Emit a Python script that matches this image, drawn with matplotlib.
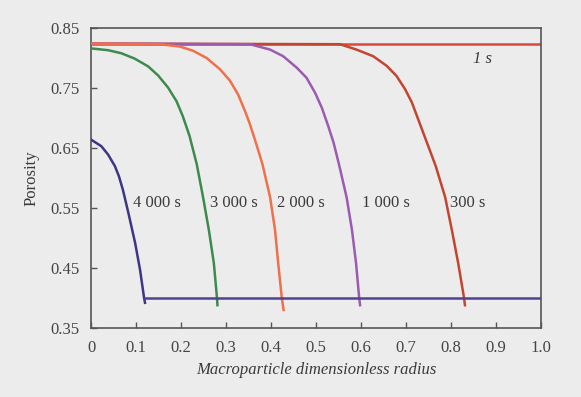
import matplotlib
matplotlib.use("Agg")
import matplotlib.pyplot as plt

plt.rcParams['font.family'] = ['Liberation Serif', 'DejaVu Serif']

# Data (dimensionless radius r, porosity p)
r_1s = [0.0, 1.0]
p_1s = [0.824, 0.824]

r_300 = [0.0, 0.553, 0.59, 0.627, 0.657, 0.679, 0.698, 0.713, 0.727, 0.741, 0.753,
         0.766, 0.787, 0.802, 0.816, 0.829, 0.831]
p_300 = [0.824, 0.823, 0.814, 0.803, 0.787, 0.770, 0.748, 0.726, 0.698, 0.670, 0.646,
         0.620, 0.568, 0.513, 0.458, 0.400, 0.388]

r_1000 = [0.0, 0.353, 0.398, 0.427, 0.457, 0.479, 0.498, 0.513, 0.527, 0.539, 0.551,
          0.568, 0.58, 0.589, 0.596, 0.598]
p_1000 = [0.824, 0.823, 0.814, 0.803, 0.784, 0.767, 0.742, 0.717, 0.687, 0.659, 0.623,
          0.568, 0.513, 0.458, 0.400, 0.388]

r_2000 = [0.0, 0.153, 0.198, 0.227, 0.257, 0.287, 0.309, 0.327, 0.342, 0.353, 0.368,
          0.381, 0.398, 0.409, 0.416, 0.424, 0.428]
p_2000 = [0.824, 0.823, 0.819, 0.812, 0.800, 0.781, 0.762, 0.739, 0.712, 0.690, 0.655,
          0.623, 0.568, 0.513, 0.458, 0.400, 0.380]

r_3000 = [0.0, 0.038, 0.067, 0.097, 0.127, 0.149, 0.171, 0.19, 0.204, 0.219, 0.235,
          0.249, 0.262, 0.273, 0.28, 0.281]
p_3000 = [0.816, 0.813, 0.808, 0.799, 0.786, 0.771, 0.751, 0.728, 0.703, 0.670, 0.623,
          0.568, 0.513, 0.458, 0.400, 0.388]

r_4000 = [0.0, 0.023, 0.038, 0.053, 0.062, 0.071, 0.083, 0.098, 0.109, 0.118, 0.12]
p_4000 = [0.664, 0.653, 0.639, 0.620, 0.603, 0.580, 0.542, 0.492, 0.447, 0.400, 0.392]

r_floor = [0.12, 1.0]
p_floor = [0.400, 0.400]

labels = ["1 s", "300 s", "1 000 s", "2 000 s", "3 000 s", "4 000 s"]
label_r = [0.871, 0.838, 0.656, 0.466, 0.318, 0.147]
label_p = [0.798, 0.558, 0.558, 0.558, 0.558, 0.558]

xticks = [0, 0.1, 0.2, 0.3, 0.4, 0.5, 0.6, 0.7, 0.8, 0.9, 1.0]
xticklabels = ["0", "0.1", "0.2", "0.3", "0.4", "0.5", "0.6", "0.7", "0.8", "0.9", "1.0"]
yticks = [0.35, 0.45, 0.55, 0.65, 0.75, 0.85]
yticklabels = ["0.35", "0.45", "0.55", "0.65", "0.75", "0.85"]

bg = '#ececec'
fig = plt.figure(figsize=(5.81, 3.97), dpi=100, facecolor=bg)
ax = fig.add_axes([91/581, 1-328/397, 450/581, 300/397], facecolor=bg)

lw = 1.8
ax.plot(r_1s, p_1s, color='#d9483b', lw=lw, zorder=2)
ax.plot(r_300, p_300, color='#c4452f', lw=lw, zorder=3)
ax.plot(r_1000, p_1000, color='#9a5bb0', lw=lw, zorder=4)
ax.plot(r_2000, p_2000, color='#f0704a', lw=lw, zorder=5)
ax.plot(r_3000, p_3000, color='#3c8a4c', lw=lw, zorder=6)
ax.plot(r_4000, p_4000, color='#3d3585', lw=lw, zorder=7)
ax.plot(r_floor, p_floor, color='#4d4390', lw=lw, zorder=8)

for t, x, y in zip(labels, label_r, label_p):
    ax.text(x, y, t, ha='center', va='center', fontsize=12, color='#3a3a3a',
            style='italic' if t == "1 s" else 'normal')

ax.set_xlim(0, 1.0)
ax.set_ylim(0.35, 0.85)
ax.set_xticks(xticks)
ax.set_xticklabels(xticklabels)
ax.set_yticks(yticks)
ax.set_yticklabels(yticklabels)
ax.tick_params(direction='in', length=4, width=1, colors='#555555', labelsize=12,
               labelcolor='#444444')
ax.tick_params(axis='x', pad=9)
ax.tick_params(axis='y', pad=8)
for s in ax.spines.values():
    s.set_color('#555555')
    s.set_linewidth(1.2)

ax.set_xlabel('Macroparticle dimensionless radius', fontsize=12, style='italic',
              color='#3a3a3a', labelpad=4)
ax.set_ylabel('Porosity', fontsize=12, color='#3a3a3a', labelpad=8)

fig.savefig('out.png', dpi=100, facecolor=bg)
